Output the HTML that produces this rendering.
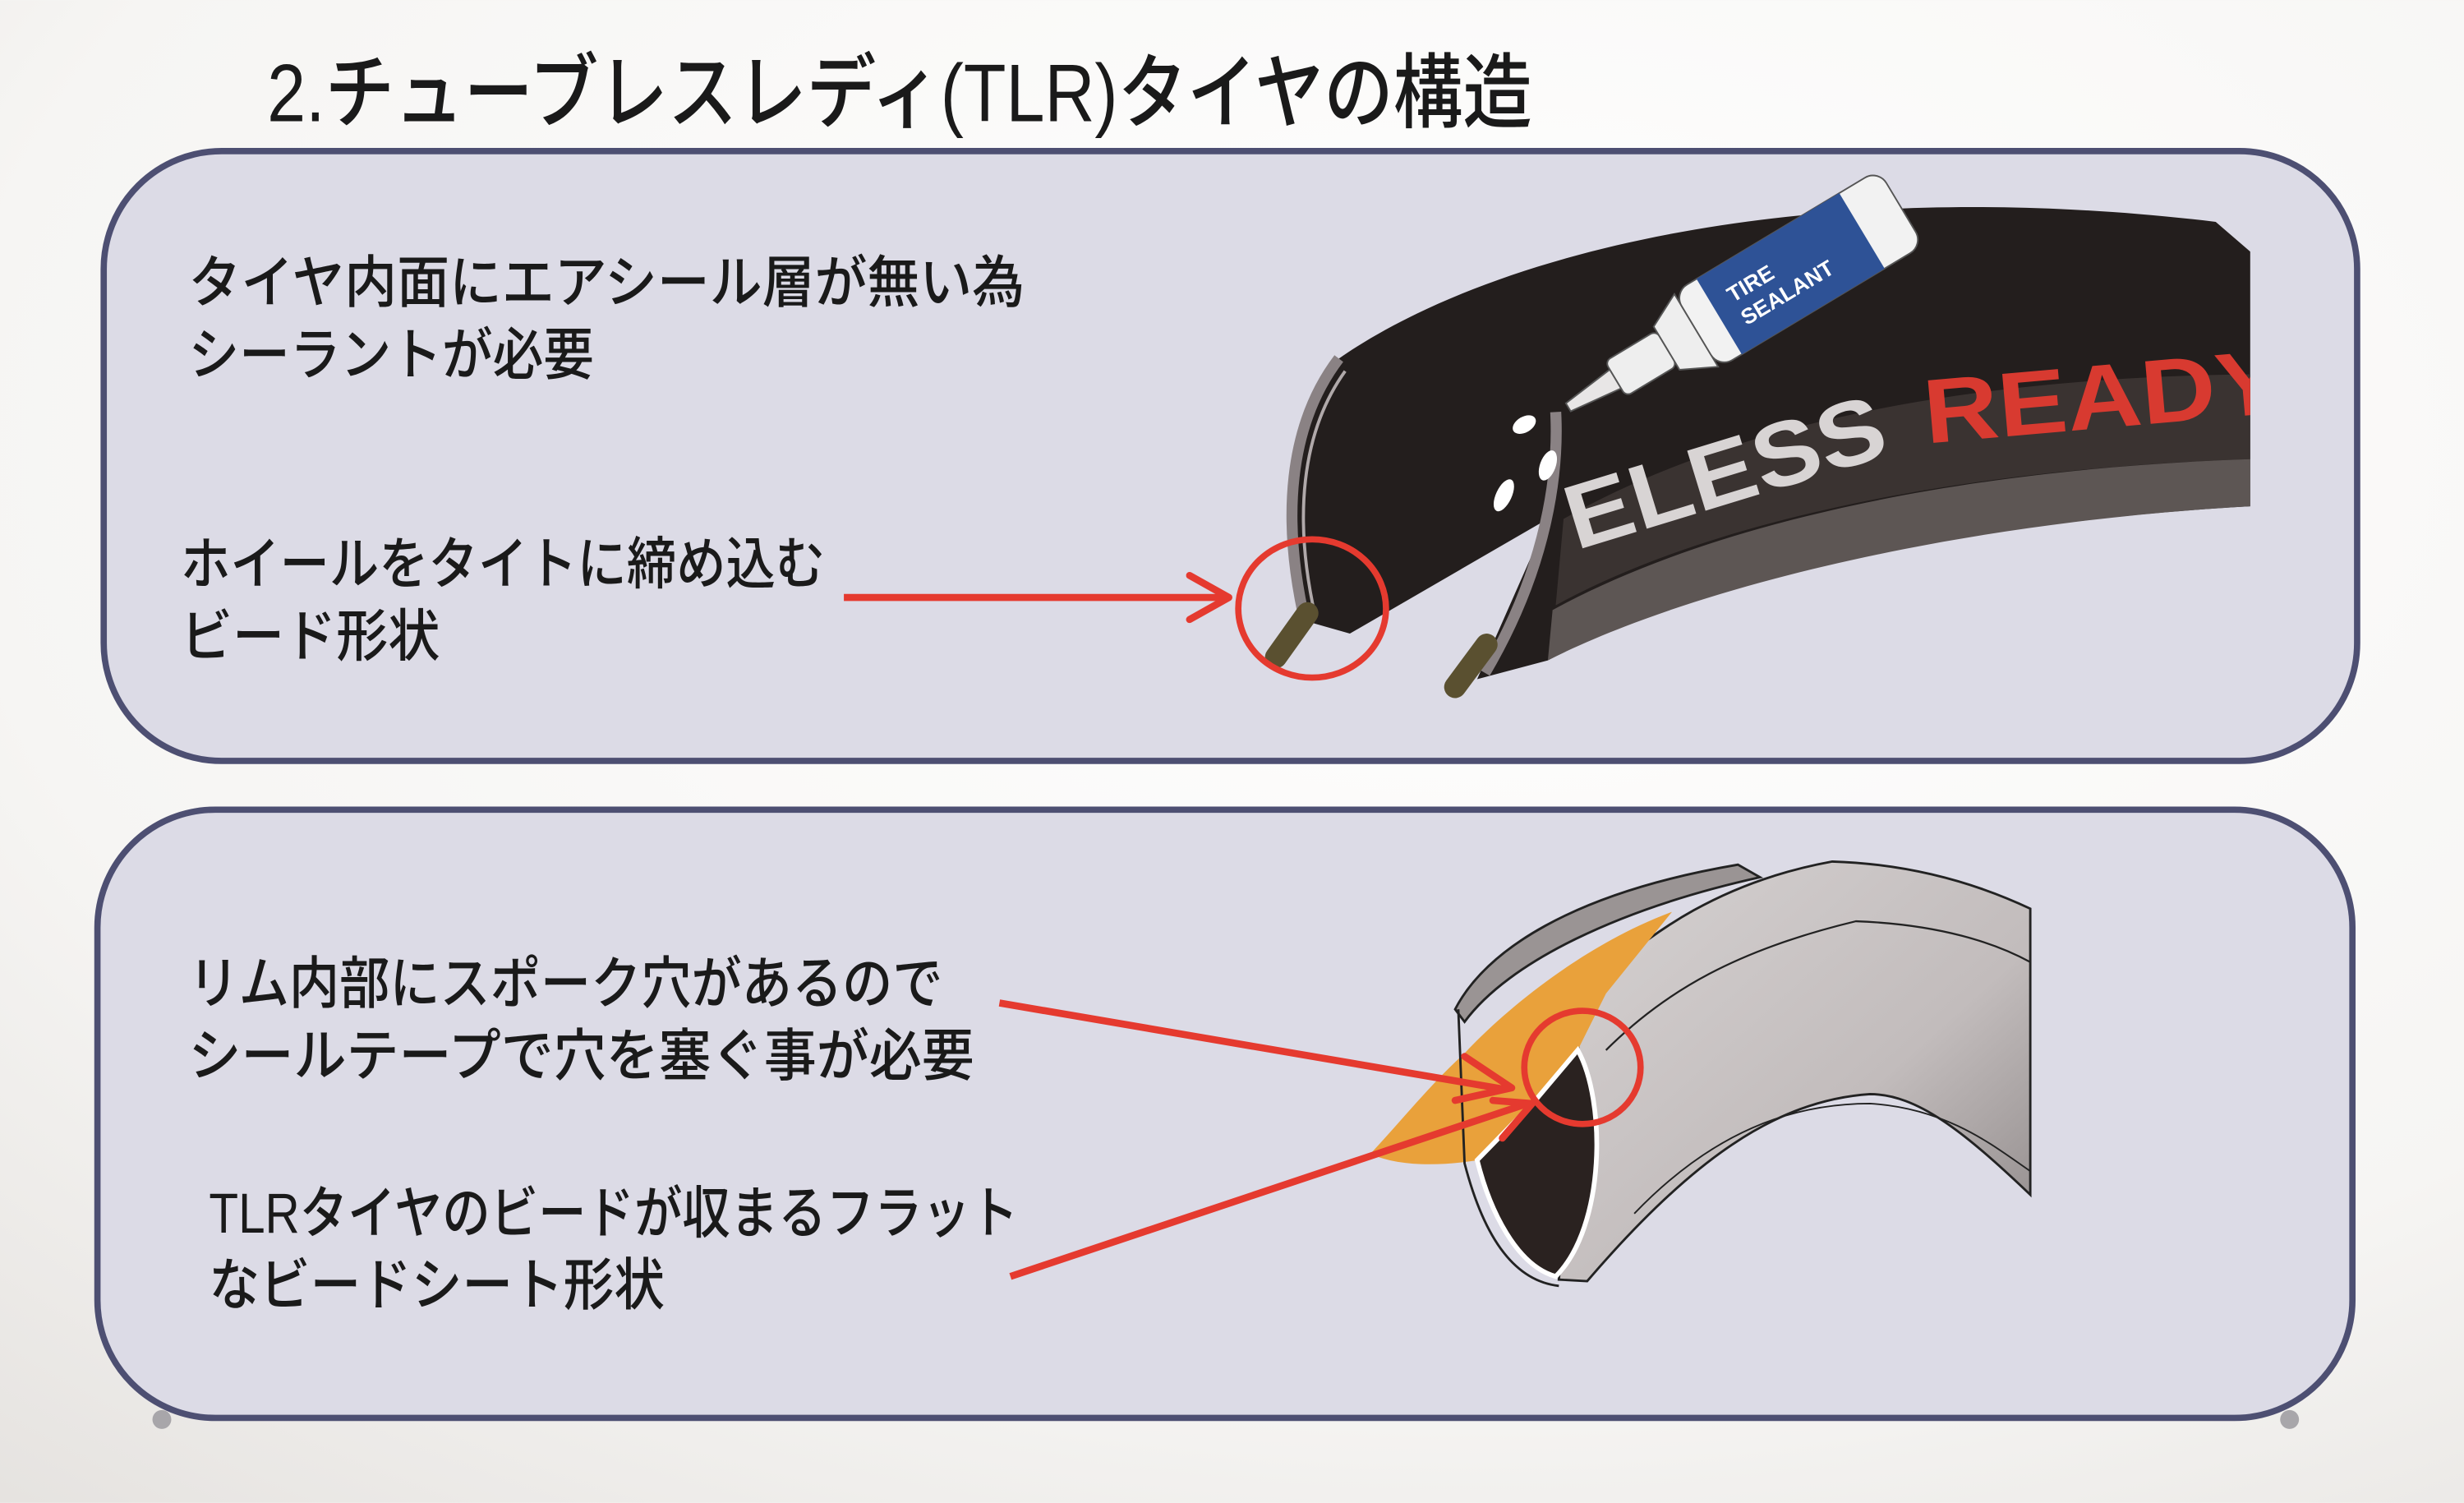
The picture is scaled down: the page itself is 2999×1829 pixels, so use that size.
<!DOCTYPE html>
<html><head><meta charset="utf-8"><style>
html,body{margin:0;padding:0;background:#f6f5f3}
svg{display:block}
text{font-family:"Liberation Sans","Noto Sans CJK JP",sans-serif}
</style></head><body>
<svg width="2999" height="1829" viewBox="0 0 1568 956" xmlns="http://www.w3.org/2000/svg">
<defs>
<radialGradient id="bg" cx="0.6" cy="0.3" r="0.95">
<stop offset="0" stop-color="#ffffff"/><stop offset="0.65" stop-color="#f6f5f3"/><stop offset="1" stop-color="#e4e1de"/>
</radialGradient>
<linearGradient id="rimg" x1="0" y1="0" x2="1" y2="1">
<stop offset="0" stop-color="#d6d2d2"/><stop offset="0.6" stop-color="#c2bcbc"/><stop offset="1" stop-color="#8c8686"/>
</linearGradient>
<clipPath id="tclip"><rect x="0" y="0" width="1432" height="956"/></clipPath>
</defs>
<rect width="1568" height="956" fill="url(#bg)"/>
<text x="170" y="77" font-size="52" font-weight="500" textLength="805" lengthAdjust="spacingAndGlyphs" fill="#1a1a1a">2.チューブレスレディ(TLR)タイヤの構造</text>

<rect x="66" y="96" width="1434" height="388" rx="75" fill="#dcdbe6" stroke="#4d4f72" stroke-width="4"/>
<rect x="62" y="515" width="1435" height="387" rx="75" fill="#dcdbe6" stroke="#4d4f72" stroke-width="4"/>
<circle cx="103" cy="903" r="6" fill="#a8a6aa"/>
<circle cx="1457" cy="903" r="6" fill="#a8a6aa"/>

<g fill="#1a1a1a" font-size="36" font-weight="500">
<text x="120" y="192" textLength="532" lengthAdjust="spacingAndGlyphs">タイヤ内面にエアシール層が無い為</text>
<text x="120" y="238" textLength="258" lengthAdjust="spacingAndGlyphs">シーラントが必要</text>
<text x="115" y="371" textLength="410" lengthAdjust="spacingAndGlyphs">ホイールをタイトに締め込む</text>
<text x="115" y="417" textLength="165" lengthAdjust="spacingAndGlyphs">ビード形状</text>
<text x="120" y="638" textLength="480" lengthAdjust="spacingAndGlyphs">リム内部にスポーク穴があるので</text>
<text x="120" y="684" textLength="500" lengthAdjust="spacingAndGlyphs">シールテープで穴を塞ぐ事が必要</text>
<text x="133" y="784" textLength="515" lengthAdjust="spacingAndGlyphs">TLRタイヤのビードが収まるフラット</text>
<text x="133" y="830" textLength="290" lengthAdjust="spacingAndGlyphs">なビードシート形状</text>
</g>

<!-- top tire -->
<g clip-path="url(#tclip)">
<path d="M831,395 C815,330 820,270 852,228 C950,160 1150,110 1410,141 L1432,160 L1432,322 C1250,332 1080,370 985,420 L940,432 L985,330 L859,403 Z" fill="#231e1d"/>
<path d="M995,330 C1100,270 1250,240 1432,238 L1432,292 C1250,298 1090,330 990,385 Z" fill="#3a3331"/>
<path d="M985,420 C1080,372 1250,332 1432,322 L1432,292 C1250,298 1090,332 988,388 Z" fill="#5d5654"/>
<text transform="translate(1003,350) rotate(-17)" font-size="58" font-weight="bold" fill="#d8d4d4" textLength="210" lengthAdjust="spacingAndGlyphs">ELESS</text>
<text transform="translate(1226,282) rotate(-5)" font-size="58" font-weight="bold" fill="#d83a30" textLength="230" lengthAdjust="spacingAndGlyphs">READY</text>
</g>
<path d="M831,398 C815,330 820,270 852,228" fill="none" stroke="#8a8284" stroke-width="7"/>
<path d="M837,392 C823,330 828,275 856,236" fill="none" stroke="#b0a9aa" stroke-width="2"/>
<path d="M990,262 C992,300 985,360 945,428" fill="none" stroke="#8a8284" stroke-width="7"/>
<line x1="812" y1="418" x2="832" y2="390" stroke="#5a5030" stroke-width="14" stroke-linecap="round"/>
<line x1="926" y1="437" x2="946" y2="410" stroke="#5a5030" stroke-width="14" stroke-linecap="round"/>
<ellipse cx="970" cy="270" rx="5" ry="8" transform="rotate(60 970 270)" fill="#fff"/>
<ellipse cx="957" cy="315" rx="5" ry="11" transform="rotate(25 957 315)" fill="#fff"/>
<ellipse cx="985" cy="296" rx="5" ry="10" transform="rotate(20 985 296)" fill="#fff"/>
<g transform="translate(998,259) rotate(-31)">
<path d="M0,-3 L35,-7 L35,7 L0,3 Z" fill="#e8e6e6" stroke="#555" stroke-width="1"/>
<rect x="35" y="-13" width="38" height="26" rx="4" fill="#eeeeee" stroke="#555" stroke-width="1"/>
<path d="M73,-16 L95,-27 L95,27 L73,16 Z" fill="#eeeeee" stroke="#555" stroke-width="1"/>
<rect x="95" y="-28" width="152" height="56" rx="10" fill="#f2f2f2" stroke="#555" stroke-width="1"/>
<rect x="112" y="-28" width="106" height="56" fill="#2e5296"/>
<text x="124" y="-3" font-size="14" font-weight="bold" fill="#fff">TIRE</text>
<text x="124" y="14" font-size="14" font-weight="bold" fill="#fff">SEALANT</text>
</g>
<line x1="537" y1="380" x2="780" y2="380" stroke="#e53a2f" stroke-width="4.5"/>
<polyline points="757,366 782,380 757,394" fill="none" stroke="#e53a2f" stroke-width="4.5" stroke-linecap="round" stroke-linejoin="round"/>
<ellipse cx="835" cy="387" rx="47" ry="44" fill="none" stroke="#e53a2f" stroke-width="4"/>

<!-- bottom rim -->
<path d="M926,642 C945,605 1000,568 1106,550 L1120,558 C1030,578 960,612 932,650 Z" fill="#9a9494" stroke="#222" stroke-width="1.5"/>
<path d="M1007,634 C1050,590 1100,560 1166,548 C1230,550 1275,570 1292,578 L1292,760 C1250,720 1220,696 1190,696 C1130,700 1076,738 1010,815 L992,814 Z" fill="url(#rimg)" stroke="#222" stroke-width="1.5"/>
<path d="M1022,668 C1060,630 1106,604 1181,586 C1235,588 1270,600 1292,612" fill="none" stroke="#222" stroke-width="1.2"/>
<path d="M1040,772 C1090,720 1140,702 1190,702 C1240,705 1270,730 1292,745" fill="none" stroke="#222" stroke-width="1"/>
<path d="M932,670 C960,640 1010,600 1064,580 L1022,632 L1004,668 L977,698 L941,738 C915,742 890,742 872,734 C890,715 910,690 932,670 Z" fill="#e9a13b"/>
<path d="M1004,668 C1022,700 1022,780 990,812 C965,805 948,770 940,738 L977,700 Z" fill="#2a2220" stroke="#fff" stroke-width="3"/>
<path d="M928,642 L932,740 C945,790 965,815 992,818" fill="none" stroke="#222" stroke-width="1.5"/>
<line x1="636" y1="638" x2="958" y2="693" stroke="#e53a2f" stroke-width="4.5"/>
<polyline points="932,672 962,692 926,700" fill="none" stroke="#e53a2f" stroke-width="4.5" stroke-linecap="round" stroke-linejoin="round"/>
<line x1="643" y1="812" x2="972" y2="702" stroke="#e53a2f" stroke-width="4.5"/>
<polyline points="950,700 975,702 956,724" fill="none" stroke="#e53a2f" stroke-width="4.5" stroke-linecap="round" stroke-linejoin="round"/>
<ellipse cx="1007" cy="679" rx="37" ry="36" fill="none" stroke="#e53a2f" stroke-width="4"/>
</svg>
</body></html>
